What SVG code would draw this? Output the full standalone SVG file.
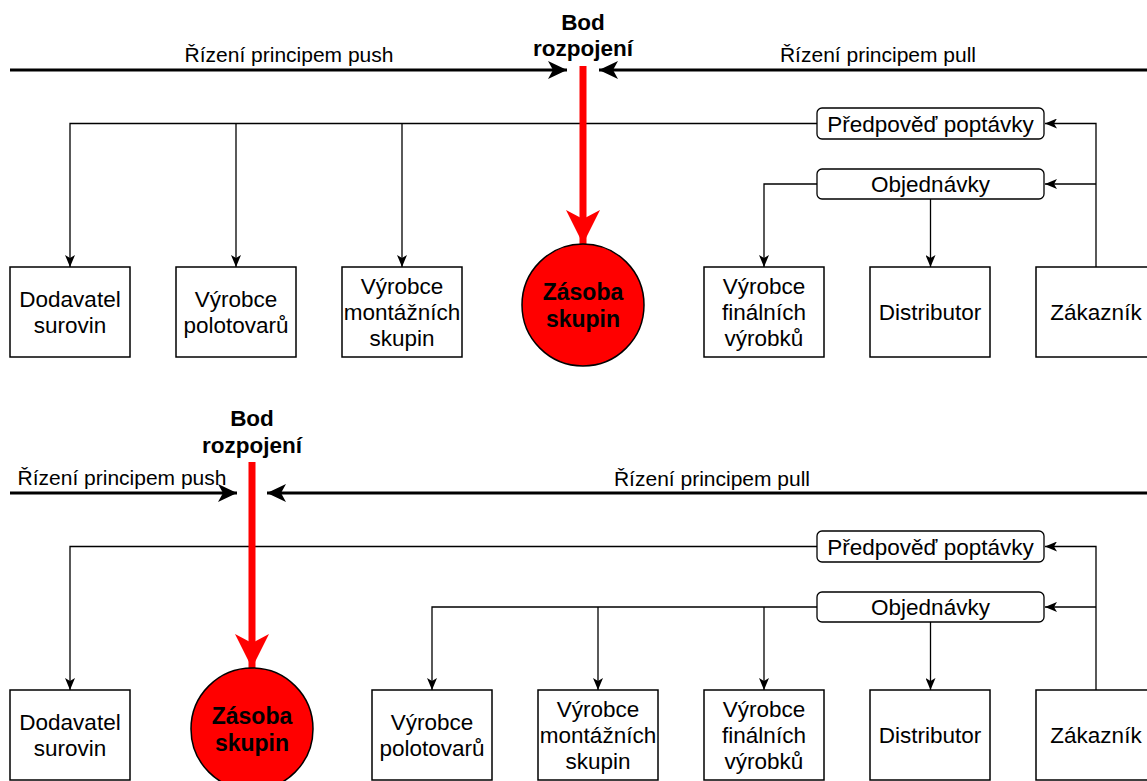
<svg xmlns="http://www.w3.org/2000/svg" width="1147" height="781" viewBox="0 0 1147 781">
<style>
.box{fill:#fff;stroke:#000;stroke-width:1.5}
.tag{fill:#fff;stroke:#000;stroke-width:1.3}
.stock{fill:#ff0000;stroke:#000;stroke-width:1.5}
.t{font-family:"Liberation Sans",Arial,sans-serif;font-size:22.5px;fill:#000;text-anchor:middle}
.lbl{font-family:"Liberation Sans",Arial,sans-serif;font-size:21px;fill:#000;text-anchor:middle}
.b{font-family:"Liberation Sans",Arial,sans-serif;font-size:22.5px;font-weight:bold;fill:#000;text-anchor:middle}
.sb{font-family:"Liberation Sans",Arial,sans-serif;font-size:23px;font-weight:bold;fill:#000;text-anchor:middle}
.thin{fill:none;stroke:#000;stroke-width:1.3}
.thinA{fill:none;stroke:#000;stroke-width:1.3;marker-end:url(#aThin)}
.thick{fill:none;stroke:#000;stroke-width:3;marker-end:url(#aThick)}
.red{fill:none;stroke:#ff0000;stroke-width:7;marker-end:url(#aRed)}
</style>
<defs>
<marker id="aThin" markerUnits="userSpaceOnUse" markerWidth="12" markerHeight="10" viewBox="0 0 12 10" refX="12" refY="5" orient="auto"><path d="M0,0 L12,5 L0,10 L3,5 Z" fill="#000"/></marker>
<marker id="aThick" markerUnits="userSpaceOnUse" markerWidth="19" markerHeight="18" viewBox="0 0 19 18" refX="19" refY="9" orient="auto"><path d="M0,0 L19,9 L0,18 L5,9 Z" fill="#000"/></marker>
<marker id="aRed" markerUnits="userSpaceOnUse" markerWidth="34" markerHeight="34" viewBox="0 0 34 34" refX="34" refY="17" orient="auto"><path d="M0,0 L34,17 L0,34 L9,17 Z" fill="#ff0000"/></marker>
</defs>

<g id="connectors">
<!-- top -->
<path class="thick" d="M10,70 H567"/>
<path class="thick" d="M1147,70 H599"/>
<path class="thinA" d="M817,123.5 H70 V267"/>
<path class="thinA" d="M236,123.5 V267"/>
<path class="thinA" d="M402,123.5 V267"/>
<path class="thinA" d="M817,184 H764 V267"/>
<path class="thinA" d="M930.5,199 V267"/>
<path class="thinA" d="M1096,267 V123.5 H1045"/>
<path class="thinA" d="M1096,184 H1045"/>
<!-- bottom -->
<path class="thick" d="M10,493 H237"/>
<path class="thick" d="M1147,493 H267"/>
<path class="thinA" d="M817,546.5 H70 V690"/>
<path class="thinA" d="M817,607 H432 V690"/>
<path class="thinA" d="M598,607 V690"/>
<path class="thinA" d="M764,607 V690"/>
<path class="thinA" d="M930.5,622 V690"/>
<path class="thinA" d="M1096,690 V546.5 H1045"/>
<path class="thinA" d="M1096,607 H1045"/>
<!-- red decoupling arrows -->
<path class="red" d="M583,66 V244"/>
<path class="red" d="M252,462 V668"/>
</g>

<g id="labels">
<text class="b" x="583" y="30">Bod</text>
<text class="b" x="583" y="56">rozpojení</text>
<text class="lbl" x="289" y="62">Řízení principem push</text>
<text class="lbl" x="878" y="62">Řízení principem pull</text>
<text class="b" x="252" y="426">Bod</text>
<text class="b" x="252" y="453">rozpojení</text>
<text class="lbl" x="122" y="485">Řízení principem push</text>
<text class="lbl" x="712" y="486">Řízení principem pull</text>
</g>

<!-- top row -->
<g id="predpoved1"><rect class="tag" x="817" y="108" width="227" height="31" rx="5"/><text class="t" x="930.5" y="131.5">Předpověď poptávky</text></g>
<g id="objednavky1"><rect class="tag" x="817" y="169" width="227" height="30" rx="5"/><text class="t" x="930.5" y="192">Objednávky</text></g>
<g id="dodavatel1"><rect class="box" x="10" y="267" width="120" height="90"/><text class="t" x="70" y="307">Dodavatel</text><text class="t" x="70" y="333">surovin</text></g>
<g id="polotovar1"><rect class="box" x="176" y="267" width="120" height="90"/><text class="t" x="236" y="307">Výrobce</text><text class="t" x="236" y="333">polotovarů</text></g>
<g id="montaz1"><rect class="box" x="342" y="267" width="120" height="90"/><text class="t" x="402" y="294">Výrobce</text><text class="t" x="402" y="320">montážních</text><text class="t" x="402" y="346">skupin</text></g>
<g id="zasoba1"><circle class="stock" cx="583" cy="305" r="61"/><text class="sb" x="583" y="300">Zásoba</text><text class="sb" x="583" y="327">skupin</text></g>
<g id="finalni1"><rect class="box" x="704" y="267" width="120" height="90"/><text class="t" x="764" y="294">Výrobce</text><text class="t" x="764" y="320">finálních</text><text class="t" x="764" y="346">výrobků</text></g>
<g id="distributor1"><rect class="box" x="870" y="267" width="120" height="90"/><text class="t" x="930" y="320">Distributor</text></g>
<g id="zakaznik1"><rect class="box" x="1036" y="267" width="120" height="90"/><text class="t" x="1096" y="320">Zákazník</text></g>

<!-- bottom row -->
<g id="predpoved2"><rect class="tag" x="817" y="531" width="227" height="31" rx="5"/><text class="t" x="930.5" y="554.5">Předpověď poptávky</text></g>
<g id="objednavky2"><rect class="tag" x="817" y="592" width="227" height="30" rx="5"/><text class="t" x="930.5" y="615">Objednávky</text></g>
<g id="dodavatel2"><rect class="box" x="10" y="690" width="120" height="90"/><text class="t" x="70" y="730">Dodavatel</text><text class="t" x="70" y="756">surovin</text></g>
<g id="zasoba2"><circle class="stock" cx="252" cy="729" r="61"/><text class="sb" x="252" y="724">Zásoba</text><text class="sb" x="252" y="751">skupin</text></g>
<g id="polotovar2"><rect class="box" x="372" y="690" width="120" height="90"/><text class="t" x="432" y="730">Výrobce</text><text class="t" x="432" y="756">polotovarů</text></g>
<g id="montaz2"><rect class="box" x="538" y="690" width="120" height="90"/><text class="t" x="598" y="717">Výrobce</text><text class="t" x="598" y="743">montážních</text><text class="t" x="598" y="769">skupin</text></g>
<g id="finalni2"><rect class="box" x="704" y="690" width="120" height="90"/><text class="t" x="764" y="717">Výrobce</text><text class="t" x="764" y="743">finálních</text><text class="t" x="764" y="769">výrobků</text></g>
<g id="distributor2"><rect class="box" x="870" y="690" width="120" height="90"/><text class="t" x="930" y="743">Distributor</text></g>
<g id="zakaznik2"><rect class="box" x="1036" y="690" width="120" height="90"/><text class="t" x="1096" y="743">Zákazník</text></g>
</svg>
